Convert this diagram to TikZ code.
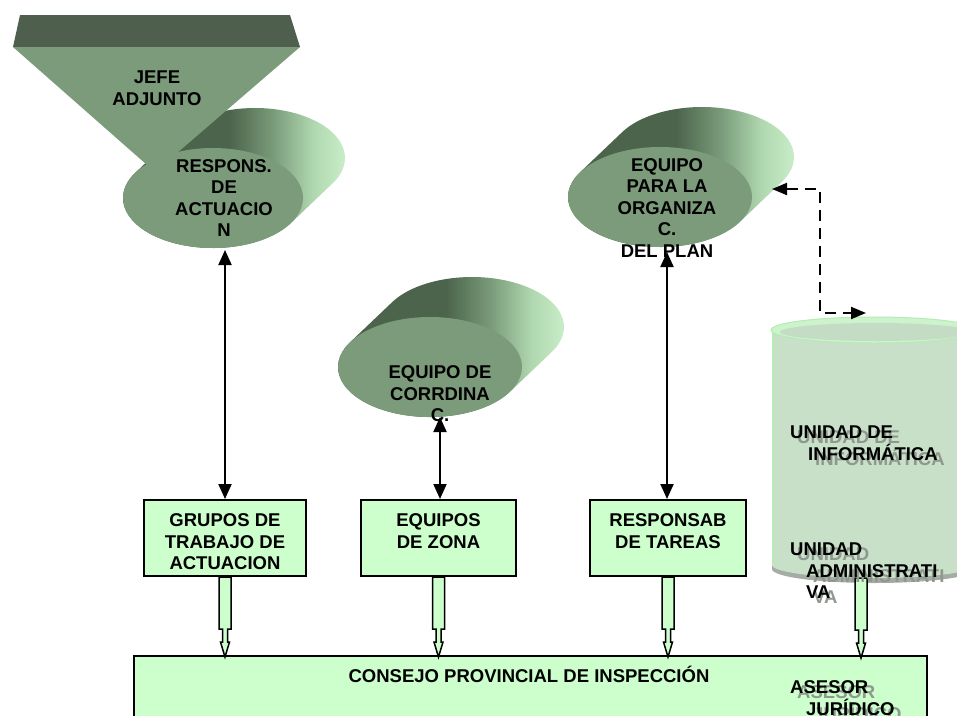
\documentclass[tikz,border=0pt]{standalone}
\usepackage{fontspec}
\setmainfont{Liberation Sans}
\usetikzlibrary{arrows.meta}
\definecolor{band}{HTML}{4E5F4E}
\definecolor{face}{HTML}{7B9B7B}
\definecolor{extdark}{HTML}{4C644C}
\definecolor{extmid}{HTML}{7A9C7A}
\definecolor{extpale}{HTML}{B0D8B0}
\definecolor{extlight}{HTML}{D2F5D2}
\definecolor{boxfill}{HTML}{CCFFCC}
\definecolor{cylbody}{HTML}{C8E0C8}
\definecolor{cyltop}{HTML}{CDF3CD}
\definecolor{cylinner}{HTML}{C3DCC3}
\definecolor{cylrim}{HTML}{B4ECB4}
\definecolor{cylshadow}{HTML}{A4ACA4}
\definecolor{txtshadow}{HTML}{8E988E}
\pgfdeclarehorizontalshading{extsh}{100bp}{color(0bp)=(extdark); color(25bp)=(extdark); color(49bp)=(extdark); color(58bp)=(extmid); color(66bp)=(extpale); color(75bp)=(extlight); color(100bp)=(extlight)}
\newcommand{\extell}[4]{%
  \shade[shading=extsh]
    (#1,-#2) ++(150:#3pt and #4pt) -- ++(42,40)
    arc[start angle=150, end angle=-30, x radius=#3pt, y radius=#4pt]
    -- ++(-42,-40)
    arc[start angle=-30, end angle=-210, x radius=#3pt, y radius=#4pt] -- cycle;
  \fill[face] (#1,-#2) ellipse[x radius=#3pt, y radius=#4pt];}
\newcommand{\blkarrow}[1]{%
  \draw[blk] (#1) ++(-6,0) -- ++(12,0) -- ++(0,-52) -- ++(-3.5,0) -- ++(0,-13)
    -- ++(2,0) -- ++(-4.5,-15) -- ++(-4.5,15) -- ++(2,0) -- ++(0,13) -- ++(-3.5,0) -- cycle;}
\begin{document}
\begin{tikzpicture}[x=1pt,y=1pt,
  lbl/.style={font=\bfseries\fontsize{18.5}{21.5}\selectfont, align=center, inner sep=0pt},
  lblL/.style={lbl, align=left, anchor=west},
  shadowtxt/.style={lblL, text=txtshadow},
  stepbox/.style={draw=black, line width=2pt, fill=boxfill, minimum height=76pt, inner sep=0pt},
  dbl/.style={line width=2pt, {Triangle[width=13pt,length=15pt]}-{Triangle[width=13pt,length=15pt]}},
  dsh/.style={line width=2pt, dash pattern=on 11pt off 7pt, {Triangle[width=12pt,length=15pt]}-{Triangle[width=12pt,length=15pt]}},
  blk/.style={draw=black, line width=1.5pt, fill=boxfill, line join=miter},
]
\useasboundingbox (0,0) rectangle (957,-715);

% extruded ellipses
\extell{213}{198}{90}{50}
\extell{430}{367}{92}{50}
\extell{660}{197}{92}{50}

% pyramid (jefe adjunto)
\fill[band] (20,-15) -- (290,-15) -- (300,-47) -- (13,-47) -- cycle;
\fill[face] (13,-47) -- (300,-47) -- (155,-172) -- cycle;

% cylinder
\fill[cylshadow] (772,-330) -- (772,-569) arc[start angle=180, end angle=360, x radius=102pt, y radius=14pt] -- (976,-330) -- cycle;
\fill[cylbody] (772,-330) -- (772,-565) arc[start angle=180, end angle=360, x radius=102pt, y radius=13pt] -- (976,-330) -- cycle;
\draw[cylrim, line width=1.5pt] (773,-330) -- (773,-563);
\filldraw[fill=cyltop, draw=cylrim, line width=1pt] (874,-330) ellipse[x radius=103pt, y radius=13pt];
\fill[cylinner] (876,-332) ellipse[x radius=96pt, y radius=9pt];

% boxes
\node[stepbox, minimum width=162pt] (grupos) at (225,-538) {};
\node[stepbox, minimum width=155pt] (equipos) at (438.5,-538) {};
\node[stepbox, minimum width=156pt] (respons) at (668,-538) {};
\node[draw=black, line width=2pt, fill=boxfill, inner sep=0pt, minimum width=793pt,
      minimum height=100pt, anchor=north west] (consejo) at (133,-655) {};

% text
\node[lbl] (jefe) at (157,-88) {JEFE\\ADJUNTO};
\node[lbl] (resp) at (224,-198) {RESPONS.\\DE\\ACTUACIO\\N};
\node[lbl] (corr) at (440,-394) {EQUIPO DE\\CORRDINA\\C.};
\node[lbl] (org) at (667,-208) {EQUIPO\\PARA LA\\ORGANIZA\\C.\\DEL PLAN};
\node[lbl] (grupost) at (225,-542) {GRUPOS DE\\TRABAJO DE\\ACTUACION};
\node[lbl] (equipost) at (438.5,-531) {EQUIPOS\\DE ZONA};
\node[lbl] (responst) at (668,-531) {RESPONSAB\\DE TAREAS};
\node[lbl] (consejot) at (529,-674) {CONSEJO PROVINCIAL DE INSPECCIÓN};

% connectors
\coordinate (respB) at (225,-250);
\coordinate (corrB) at (440,-417);
\coordinate (orgB) at (667,-252);
\draw[dbl] (respB) -- (respB |- grupos.north);
\draw[dbl] (corrB) -- (corrB |- equipos.north);
\draw[dbl] (orgB) -- (orgB |- respons.north);

\coordinate (orgpt) at (772,-189);
\coordinate (dcorner) at (820,-313);
\coordinate (cylpt) at (866,-313);
\draw[dsh] (orgpt) -| (dcorner) -- (cylpt);

\coordinate (cylbot) at (861,-578);
\blkarrow{grupos.south}
\blkarrow{equipos.south}
\blkarrow{respons.south}
\blkarrow{cylbot}

% unit texts with shadow
\node[shadowtxt] (infS) at (797,-448) {UNIDAD DE\\\hspace*{18pt}INFORMÁTICA};
\node[lblL] (inf) at (790,-443) {UNIDAD DE\\\hspace*{18pt}INFORMÁTICA};
\node[shadowtxt] (admS) at (797,-576) {UNIDAD\\\hspace*{16pt}ADMINISTRATI\\\hspace*{16pt}VA};
\node[lblL] (adm) at (790,-571) {UNIDAD\\\hspace*{16pt}ADMINISTRATI\\\hspace*{16pt}VA};
\node[shadowtxt] (aseS) at (797,-703) {ASESOR\\\hspace*{16pt}JURÍDICO};
\node[lblL] (ase) at (790,-698) {ASESOR\\\hspace*{16pt}JURÍDICO};
\end{tikzpicture}
\end{document}
